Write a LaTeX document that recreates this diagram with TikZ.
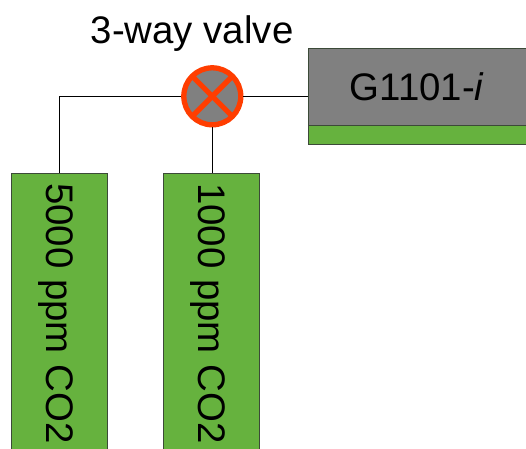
\documentclass[tikz,border=0pt]{standalone}
\usepackage{fontspec}
\setmainfont{Liberation Sans}
\definecolor{boxgreen}{HTML}{66B23E}
\definecolor{boxgrey}{HTML}{808080}
\definecolor{valvered}{HTML}{FF3D00}
\definecolor{edgegrey}{HTML}{3C4A38}
\tikzset{
  boxshape/.style={draw=edgegrey,line width=1.2pt,rectangle,inner sep=0pt},
  greybox/.style={boxshape,fill=boxgrey,anchor=north west,minimum width=252pt,minimum height=77pt},
  greenstrip/.style={boxshape,fill=boxgreen,anchor=north west,minimum width=252pt,minimum height=19pt},
  tank/.style={boxshape,fill=boxgreen,anchor=north,minimum width=96pt,minimum height=327pt},
  valve/.style={circle,draw=valvered,fill=boxgrey,line width=5.3pt,minimum size=57pt,inner sep=0pt},
  crossline/.style={draw=valvered,line width=5.3pt,shorten >=2.5pt,shorten <=2.5pt},
  pipe/.style={draw=black,line width=1pt},
  lab/.style={font=\fontsize{38.4}{38.4}\selectfont,inner sep=0pt,text=black}
}
\begin{document}
\begin{tikzpicture}[x=1pt,y=-1pt]
\path[use as bounding box] (0,0) rectangle (526,448);
\clip (0,0) rectangle (526,448);
\node[greybox] (g) at (308,48) {};
\node[greenstrip] (gs) at (308,125) {};
\node[tank] (t1) at (59.2,173) {};
\node[tank] (t2) at (211.2,173) {};
\node[valve] (v) at (212.3,96.3) {};
\draw[pipe] (v.west) -| (t1.north);
\draw[pipe] (v.south) -- (v.south |- t2.north);
\draw[pipe] (v.east) -- (g.west |- v.east);
\draw[crossline] (v.45) -- (v.225);
\draw[crossline] (v.135) -- (v.315);
\node[lab,anchor=base west] (title) at (90.5,43) {3-way valve};
\node[lab,anchor=base west] (gl) at (349.5,100.7) {G1101-\textit{i}};
\node[lab,anchor=base west,rotate=-90] (l1) at (46,183) {5000 ppm CO2};
\node[lab,anchor=base west,rotate=-90] (l2) at (198,183) {1000 ppm CO2};
\end{tikzpicture}
\end{document}
